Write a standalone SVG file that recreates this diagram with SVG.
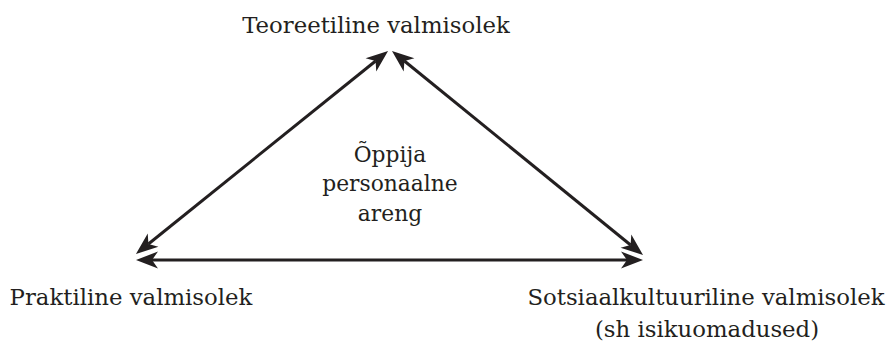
<svg xmlns="http://www.w3.org/2000/svg" width="887" height="343" viewBox="0 0 887 343">
  <style>
    .lbl { font-family: "DejaVu Serif", "Liberation Serif", serif; font-size: 22.8px; fill: #231f20; }
    .mid { font-size: 21.8px; }
    .edge { stroke: #231f20; stroke-width: 3; fill: none; }
  </style>
  <defs>
    <marker id="head" markerUnits="userSpaceOnUse" markerWidth="26" markerHeight="22" refX="8" refY="11" orient="auto-start-reverse" viewBox="0 0 26 22">
      <path d="M24,11 L2,2.5 L8,11 L2,19.5 Z" fill="#231f20"/>
    </marker>
  </defs>
  <rect width="887" height="343" fill="#ffffff"/>

  <g id="connectors">
    <line class="edge" x1="148.4" y1="244.0" x2="375.6" y2="61.0" marker-start="url(#head)" marker-end="url(#head)"/>
    <line class="edge" x1="404.4" y1="61.0" x2="630.6" y2="245.0" marker-start="url(#head)" marker-end="url(#head)"/>
    <line class="edge" x1="152" y1="260" x2="627" y2="260" marker-start="url(#head)" marker-end="url(#head)"/>
  </g>

  <g id="node-teoreetiline">
    <text class="lbl" x="376" y="33" text-anchor="middle">Teoreetiline valmisolek</text>
  </g>
  <g id="node-center">
    <text class="lbl mid" x="390" y="162" text-anchor="middle">Õppija</text>
    <text class="lbl mid" x="390" y="191" text-anchor="middle">personaalne</text>
    <text class="lbl mid" x="390" y="221" text-anchor="middle">areng</text>
  </g>
  <g id="node-praktiline">
    <text class="lbl" x="131" y="305" text-anchor="middle">Praktiline valmisolek</text>
  </g>
  <g id="node-sotsiaal">
    <text class="lbl" x="706" y="305" text-anchor="middle">Sotsiaalkultuuriline valmisolek</text>
    <text class="lbl" x="707" y="337" text-anchor="middle">(sh isikuomadused)</text>
  </g>
</svg>
